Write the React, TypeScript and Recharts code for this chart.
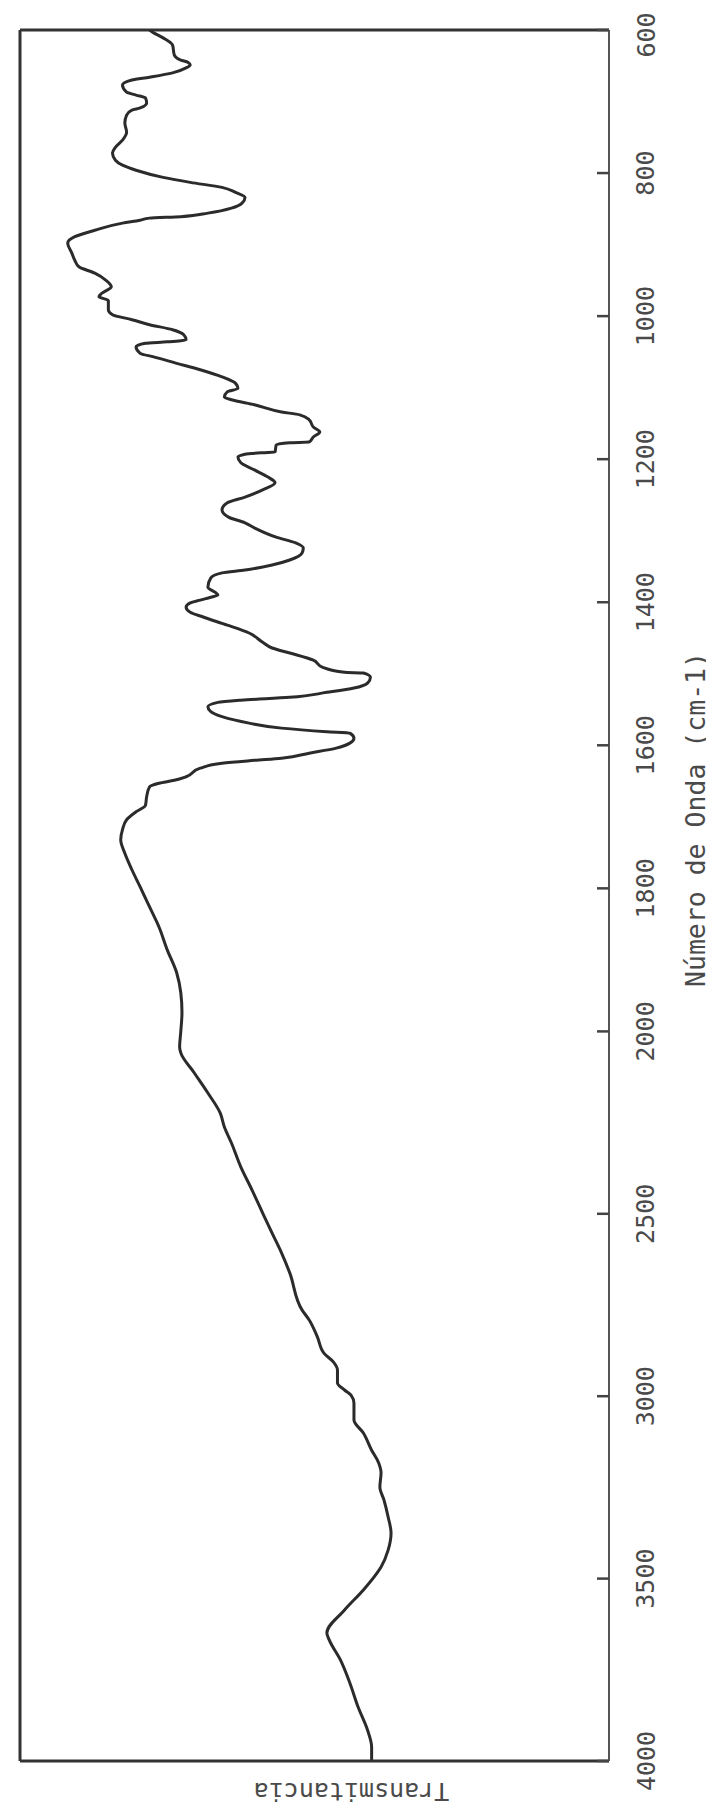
import React from 'react';
import { LineChart, Line, XAxis, YAxis, ReferenceLine } from 'recharts';

// IR spectrum: wavenumber (cm-1) and transmittance (relative, %)
const wavenumbers = [
  600, 604, 611, 621, 635, 642, 645, 649, 653, 660,
  666, 670, 677, 687, 691, 695, 702, 709, 712, 719,
  730, 743, 754, 764, 772, 782, 789, 796, 806, 813,
  820, 827, 834, 842, 849, 856, 861, 863, 866, 870,
  880, 889, 898, 912, 922, 931, 940, 950, 959, 968,
  973, 978, 991, 998, 1005, 1012, 1019, 1026, 1033, 1036,
  1038, 1043, 1052, 1057, 1066, 1075, 1085, 1094, 1101, 1106,
  1113, 1117, 1124, 1134, 1138, 1145, 1155, 1162, 1169, 1176,
  1177, 1180, 1190, 1191, 1193, 1197, 1205, 1215, 1225, 1233,
  1243, 1253, 1261, 1271, 1281, 1289, 1296, 1309, 1317, 1324,
  1331, 1341, 1348, 1355, 1359, 1366, 1379, 1386, 1390, 1393,
  1397, 1401, 1407, 1414, 1421, 1432, 1443, 1456, 1464, 1471,
  1481, 1491, 1498, 1499, 1505, 1513, 1520, 1526, 1533, 1537,
  1540, 1546, 1553, 1560, 1569, 1576, 1581, 1583, 1590, 1597,
  1604, 1611, 1618, 1621, 1625, 1632, 1644, 1649, 1653, 1658,
  1672, 1684, 1693, 1704, 1718, 1732, 1751, 1774, 1798, 1826,
  1854, 1886, 1918, 1946, 1974, 2000, 2043, 2059, 2114, 2169,
  2224, 2262, 2306, 2372, 2435, 2498, 2553, 2607, 2662, 2764,
  2791, 2838, 2882, 2906, 2928, 2964, 2983, 2997, 3019, 3065,
  3101, 3148, 3183, 3210, 3249, 3285, 3331, 3375, 3422, 3468,
  3485, 3531, 3586, 3649, 3668, 3723, 3786, 3852, 3915, 3962,
  4000,
];

const transmittance = [
  78.0, 77.3, 75.7, 74.1, 73.8, 72.7, 71.5, 71.1, 71.8, 74.1,
  78.0, 81.0, 82.6, 81.9, 80.3, 78.7, 78.5, 79.6, 81.0, 81.9,
  82.2, 81.9, 82.6, 83.8, 84.3, 83.8, 82.6, 80.3, 75.7, 71.1,
  65.7, 63.4, 61.8, 62.3, 64.1, 68.1, 72.7, 78.0, 79.6, 82.6,
  87.3, 90.7, 91.9, 91.2, 90.7, 90.0, 87.3, 85.4, 84.5, 86.1,
  86.6, 85.0, 85.0, 84.3, 81.0, 78.0, 74.1, 72.2, 71.8, 75.0,
  78.7, 80.3, 79.6, 77.3, 73.4, 69.4, 65.7, 63.4, 63.0, 64.8,
  65.3, 64.1, 60.2, 55.6, 52.5, 50.9, 50.2, 49.1, 50.2, 50.9,
  54.2, 56.5, 56.7, 58.8, 61.8, 63.0, 62.5, 60.2, 57.9, 56.7,
  58.8, 61.8, 64.8, 65.7, 64.6, 61.8, 60.2, 56.5, 53.2, 51.9,
  52.1, 54.2, 57.2, 61.8, 65.7, 67.6, 68.1, 66.9, 66.4, 67.6,
  69.4, 71.1, 71.8, 71.1, 68.8, 64.8, 61.1, 58.8, 57.2, 54.2,
  50.2, 48.6, 44.9, 41.7, 40.5, 41.0, 43.3, 47.9, 54.2, 62.5,
  66.4, 68.1, 67.6, 65.7, 61.1, 55.6, 47.9, 44.0, 43.3, 44.0,
  46.3, 50.9, 55.6, 60.2, 65.7, 69.4, 71.8, 73.8, 76.4, 78.0,
  78.5, 78.7, 80.3, 81.9, 82.6, 82.9, 82.2, 81.0, 79.6, 78.0,
  76.4, 75.0, 73.4, 72.7, 72.5, 72.7, 72.9, 72.7, 70.4, 68.1,
  66.0, 65.3, 64.1, 62.5, 60.6, 58.8, 57.2, 55.6, 54.2, 52.1,
  50.9, 49.5, 48.4, 46.8, 46.1, 46.1, 44.9, 43.8, 43.3, 43.3,
  41.7, 40.3, 39.1, 38.7, 38.9, 38.2, 37.5, 37.0, 37.5, 38.7,
  39.4, 41.7, 44.9, 47.9, 47.5, 45.6, 44.0, 42.6, 41.0, 40.3,
  40.3,
];

const tickWavenumbers = [600, 800, 1000, 1200, 1400, 1600, 1800, 2000, 2500, 3000, 3500, 4000];

const wavenumberTitle = 'Número de Onda (cm-1)';
const transmittanceTitle = 'Transmitancia';

// Spectrometer scale change at 2000 cm-1 (upper range drawn at about half scale)
const SCALE_BREAK = 2000;
const HIGH_FACTOR = 0.51;
const toPos = (wn: number) => (wn <= SCALE_BREAK ? wn : SCALE_BREAK + (wn - SCALE_BREAK) * HIGH_FACTOR);
const fromPos = (p: number) => (p <= SCALE_BREAK ? p : SCALE_BREAK + (p - SCALE_BREAK) / HIGH_FACTOR);

const data = wavenumbers.map((w, i) => ({ pos: toPos(w), t: transmittance[i] }));

const FONT = '"DejaVu Sans Mono", monospace';
const INK = '#333';
const TEXT = '#4a4a4a';

const WnTick = (props: any) => {
  const { x, y, payload, index } = props;
  const label = Math.round(fromPos(payload.value));
  const tx = x + 37;
  const ty = index === 0 ? y + 5 : y;
  return (
    <g>
      <line x1={x - 12} x2={x} y1={y} y2={y} stroke="#444" strokeWidth={2.5} />
      <text
        x={tx}
        y={ty}
        transform={`rotate(-90, ${tx}, ${ty})`}
        textAnchor="middle"
        dominantBaseline="central"
        fontFamily={FONT}
        fontSize={25}
        fill={TEXT}
      >
        {label}
      </text>
    </g>
  );
};

const renderWnTitle = (props: any) => {
  const vb = props.viewBox || {};
  const cx = vb.x + 86;
  const cy = vb.y + vb.height / 2 - 76;
  return (
    <text
      x={cx}
      y={cy}
      transform={`rotate(-90, ${cx}, ${cy})`}
      textAnchor="middle"
      dominantBaseline="central"
      fontFamily={FONT}
      fontSize={26.5}
      fill={TEXT}
    >
      {wavenumberTitle}
    </text>
  );
};

const renderTTitle = (props: any) => {
  const vb = props.viewBox || {};
  const cx = vb.x + vb.width / 2 + 37;
  const cy = vb.y + 30;
  return (
    <text
      x={cx}
      y={cy}
      transform={`rotate(180, ${cx}, ${cy})`}
      textAnchor="middle"
      dominantBaseline="central"
      fontFamily={FONT}
      fontSize={25}
      fill={TEXT}
    >
      {transmittanceTitle}
    </text>
  );
};

export default function App() {
  return (
    <div style={{ width: 706, height: 1803, background: '#fff' }}>
      <LineChart
        width={706}
        height={1803}
        data={data}
        layout="vertical"
        margin={{ top: 22, right: 0, bottom: 0, left: 12 }}
      >
        <XAxis
          type="number"
          dataKey="t"
          domain={[0, 100]}
          reversed
          orientation="bottom"
          height={50}
          tick={false}
          tickLine={false}
          axisLine={{ stroke: INK, strokeWidth: 3 }}
          allowDataOverflow
          label={{ content: renderTTitle }}
        />
        <YAxis
          type="number"
          dataKey="pos"
          domain={[600, 3020]}
          orientation="right"
          width={105}
          ticks={tickWavenumbers.map(toPos)}
          interval={0}
          tickSize={0}
          tickMargin={0}
          tickLine={false}
          tick={<WnTick />}
          axisLine={{ stroke: '#555', strokeWidth: 2 }}
          allowDataOverflow
          label={{ content: renderWnTitle }}
        />
        <ReferenceLine x={100} stroke={INK} strokeWidth={3} />
        <ReferenceLine y={600} stroke={INK} strokeWidth={3} />
        <Line
          dataKey="t"
          type="monotone"
          stroke="#2b2b2b"
          strokeWidth={3}
          dot={false}
          isAnimationActive={false}
        />
      </LineChart>
    </div>
  );
}
